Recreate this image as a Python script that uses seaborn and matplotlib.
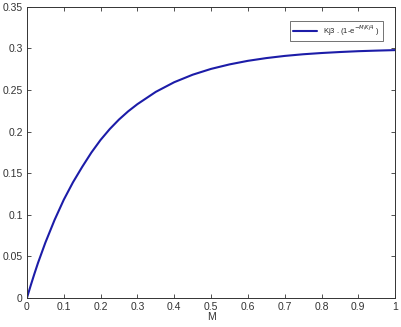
import numpy as np
import pandas as pd
import matplotlib
matplotlib.use("Agg")
import matplotlib.pyplot as plt
import seaborn as sns

# values
m_vals = [0.0, 0.01, 0.02, 0.03, 0.05, 0.075, 0.1, 0.125, 0.15, 0.175, 0.2, 0.225, 0.25,
          0.275, 0.3, 0.35, 0.4, 0.45, 0.5, 0.55, 0.6, 0.65, 0.7, 0.75, 0.8, 0.85, 0.9,
          0.95, 1.0]
y_vals = [0.0, 0.0146, 0.0286, 0.042, 0.0664, 0.0937, 0.118, 0.139, 0.1575, 0.1748, 0.19,
          0.2031, 0.2145, 0.2244, 0.233, 0.2478, 0.2594, 0.2684, 0.2754, 0.2808, 0.2851,
          0.2884, 0.291, 0.293, 0.2945, 0.2957, 0.2967, 0.2974, 0.298]
x_ticks = [0, 0.1, 0.2, 0.3, 0.4, 0.5, 0.6, 0.7, 0.8, 0.9, 1]
y_ticks = [0, 0.05, 0.1, 0.15, 0.2, 0.25, 0.3, 0.35]
x_ticklabels = ["0", "0.1", "0.2", "0.3", "0.4", "0.5", "0.6", "0.7", "0.8", "0.9", "1"]
y_ticklabels = ["0", "0.05", "0.1", "0.15", "0.2", "0.25", "0.3", "0.35"]

df = pd.DataFrame({"M": m_vals, "y": y_vals})

sns.set_theme(style="white")
plt.rcParams["font.family"] = ["Liberation Sans", "DejaVu Sans"]
plt.rcParams["xtick.direction"] = "in"
plt.rcParams["ytick.direction"] = "in"

fig = plt.figure(figsize=(4.02, 3.27), dpi=100)
ax = fig.add_axes([0.067, 0.089, 0.916, 0.89])

sns.lineplot(data=df, x="M", y="y", ax=ax, color="#1c1ca8", linewidth=1.5,
             label="Kj3 . (1-e$^{-M/Kj4}$ )")

ax.set_xlim(0, 1)
ax.set_ylim(0, 0.35)
ax.set_xticks(x_ticks)
ax.set_xticklabels(x_ticklabels)
ax.set_yticks(y_ticks)
ax.set_yticklabels(y_ticklabels)
ax.tick_params(axis="both", labelsize=7.5, colors="#333333", length=3, width=0.6,
               top=True, right=True, bottom=True, left=True, pad=3)
ax.set_xlabel("M", fontsize=7.5, color="#333333", labelpad=0)
ax.set_ylabel("")
for s in ax.spines.values():
    s.set_color("#333333")
    s.set_linewidth(0.7)

leg = ax.legend(loc="upper right", fontsize=5.5, frameon=True, fancybox=False,
                handlelength=3.2, borderpad=0.35, bbox_to_anchor=(0.977, 0.965))
leg.get_frame().set_edgecolor("#333333")
leg.get_frame().set_linewidth(0.6)

fig.savefig("out.png", dpi=100)
